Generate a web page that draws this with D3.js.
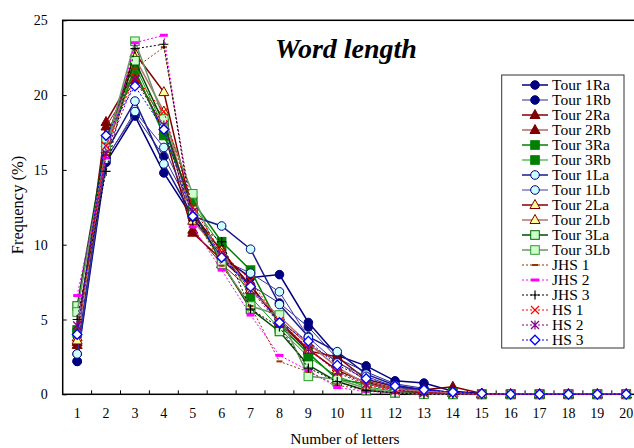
<!DOCTYPE html>
<html>
<head>
<style>
  body{
    margin: 0;
    background: white;
    font-family: 'Liberation Serif', serif;
  }
</style>
</head>
<body>
<svg id='svgVis'></svg>
<script src="https://cdn.jsdelivr.net/npm/d3@7"></script>
<script>

var letters = d3.range(1, 21);
var yTicks = [0, 5, 10, 15, 20, 25];

var tour1Ra = [2.2, 15.5, 18.6, 14.8, 11.8, 9.2, 7.8, 8.0, 4.8, 2.6, 1.9, 0.9, 0.75, 0.2, 0.05, 0, 0, 0, 0, 0];
var tour1Rb = [2.2, 15.8, 18.7, 15.9, 12.2, 9.5, 7.3, 6.1, 4.5, 2.4, 1.5, 0.7, 0.4, 0.1, 0, 0, 0, 0, 0, 0];
var tour2Ra = [3.5, 18.2, 21.5, 17.6, 10.8, 9.0, 7.3, 4.8, 2.9, 2.5, 1.0, 0.5, 0.3, 0.5, 0.05, 0, 0, 0, 0, 0];
var tour2Rb = [3.3, 17.9, 21.0, 18.5, 11.0, 8.7, 7.0, 5.0, 3.3, 2.2, 0.9, 0.4, 0.2, 0.1, 0, 0, 0, 0, 0, 0];
var tour3Ra = [4.3, 16.6, 21.7, 17.3, 12.9, 10.2, 8.3, 4.6, 2.75, 1.0, 0.7, 0.3, 0.1, 0.1, 0, 0, 0, 0, 0, 0];
var tour3Rb = [4.1, 16.3, 22.0, 17.8, 12.6, 9.9, 6.5, 4.4, 2.5, 1.2, 0.5, 0.2, 0.1, 0, 0, 0, 0, 0, 0, 0];
var tour1La = [2.7, 16.2, 19.6, 15.4, 11.9, 11.25, 9.7, 6.0, 3.85, 2.85, 1.35, 0.6, 0.3, 0.1, 0, 0, 0, 0, 0, 0];
var tour1Lb = [2.7, 15.7, 18.9, 16.5, 12.3, 9.0, 8.1, 6.85, 3.8, 2.1, 1.2, 0.5, 0.2, 0.1, 0, 0, 0, 0, 0, 0];
var tour2La = [3.8, 16.8, 22.8, 20.2, 12.0, 9.6, 7.2, 4.9, 3.0, 1.6, 0.8, 0.3, 0.1, 0.1, 0, 0, 0, 0, 0, 0];
var tour2Lb = [3.6, 16.4, 22.5, 18.9, 11.6, 9.4, 7.0, 5.2, 3.4, 1.8, 0.7, 0.3, 0.2, 0.1, 0, 0, 0, 0, 0, 0];
var tour3La = [5.9, 17.0, 22.3, 18.1, 12.3, 8.8, 5.7, 4.2, 1.95, 0.85, 0.25, 0.1, 0.05, 0, 0, 0, 0, 0, 0, 0];
var tour3Lb = [5.5, 16.5, 23.6, 18.4, 13.4, 8.7, 5.9, 5.3, 1.2, 1.0, 0.4, 0.1, 0, 0, 0, 0, 0, 0, 0, 0];
var jhs1 = [3.8, 16.0, 21.8, 23.2, 12.1, 8.6, 5.9, 2.2, 1.5, 0.6, 0.3, 0.1, 0, 0, 0, 0, 0, 0, 0, 0];
var jhs2 = [6.6, 15.8, 23.5, 24.0, 11.2, 8.3, 5.3, 2.6, 1.6, 0.45, 0.2, 0.1, 0, 0, 0, 0, 0, 0, 0, 0];
var jhs3 = [5.0, 14.9, 23.1, 23.4, 11.6, 10.2, 5.7, 4.5, 1.75, 0.85, 0.25, 0.1, 0, 0, 0, 0, 0, 0, 0, 0];
var hs1 = [4.2, 16.6, 21.2, 18.9, 12.5, 9.5, 7.6, 4.9, 3.1, 1.45, 0.6, 0.25, 0.1, 0.05, 0, 0, 0, 0, 0, 0];
var hs2 = [4.6, 16.1, 21.0, 18.0, 12.2, 9.3, 7.0, 4.7, 3.0, 1.5, 0.7, 0.3, 0.1, 0.05, 0, 0, 0, 0, 0, 0];
var hs3 = [4.0, 17.3, 20.6, 17.7, 11.9, 9.15, 7.2, 4.8, 3.55, 1.95, 1.05, 0.55, 0.3, 0.15, 0.05, 0, 0, 0, 0, 0];

// name, values, line colour, line width, dash, marker, marker fill, marker stroke
var series = [
  ['Tour 1Ra', tour1Ra, '#000080', 1.5, null, 'circle', '#000080', '#000080'],
  ['Tour 1Rb', tour1Rb, '#2a2a95', 1, null, 'circle', '#000080', '#000080'],
  ['Tour 2Ra', tour2Ra, '#800000', 1.5, null, 'triangle', '#800000', '#800000'],
  ['Tour 2Rb', tour2Rb, '#8c1a1a', 1, null, 'triangle', '#800000', '#800000'],
  ['Tour 3Ra', tour3Ra, '#008000', 1.5, null, 'square', '#008000', '#008000'],
  ['Tour 3Rb', tour3Rb, '#119911', 1, null, 'square', '#008000', '#008000'],
  ['Tour 1La', tour1La, '#1a1a8c', 1.5, null, 'circle', '#ccffff', '#000080'],
  ['Tour 1Lb', tour1Lb, '#3b3ba0', 1, null, 'circle', '#ccffff', '#000080'],
  ['Tour 2La', tour2La, '#800000', 1.5, null, 'triangle', '#ffff99', '#800000'],
  ['Tour 2Lb', tour2Lb, '#b87070', 1.5, null, 'triangle', '#ffff99', '#800000'],
  ['Tour 3La', tour3La, '#004d00', 1.5, null, 'square', '#ccffcc', '#006600'],
  ['Tour 3Lb', tour3Lb, '#669966', 1.5, null, 'square', '#ccffcc', '#339933'],
  ['JHS 1', jhs1, '#993300', 1, '2,2', 'dash', '#993300', '#993300'],
  ['JHS 2', jhs2, '#ff00ff', 1, '2,2', 'thickdash', '#ff00ff', '#ff00ff'],
  ['JHS 3', jhs3, '#000000', 1, '2,2', 'plus', 'none', '#000000'],
  ['HS 1', hs1, '#ff0000', 1, '2,2', 'cross', 'none', '#ff0000'],
  ['HS 2', hs2, '#800080', 1, '2,2', 'star', 'none', '#800080'],
  ['HS 3', hs3, '#0000ff', 1, '2,2', 'diamond', '#ffffff', '#0000ff']
];

var width = 634, height = 448;
var plotLeft = 62.7, plotTop = 20.3, plotBottom = 394.3, plotRight = 640.7;

var svg = d3.select('#svgVis')
    .attr('width', width)
    .attr('height', height);

var x = d3.scalePoint().domain(letters).range([plotLeft, plotRight]).padding(0.5);
var y = d3.scaleLinear().domain([0, 25]).range([plotBottom, plotTop]);

// frame
svg.append('rect')
  .attr('x', plotLeft).attr('y', plotTop)
  .attr('width', plotRight - plotLeft).attr('height', plotBottom - plotTop)
  .attr('fill', 'none').attr('stroke', '#000').attr('stroke-width', 1.5);

// y axis
var yAxis = svg.append('g')
  .attr('transform', 'translate(' + plotLeft + ',0)')
  .call(d3.axisRight(y).tickValues(yTicks).tickSize(4).tickFormat(''));
yAxis.select('.domain').remove();
yTicks.forEach(function(t) {
  svg.append('text')
    .attr('x', plotLeft - 15).attr('y', y(t) + 5)
    .attr('text-anchor', 'end')
    .style('font-size', '14px')
    .text(t);
});

// x axis: ticks between categories
var step = x.step();
var bounds = d3.range(1, 20).map(function(i) { return plotLeft + i * step; });
svg.selectAll('.xtick').data(bounds).enter().append('line')
  .attr('x1', function(d) { return d; }).attr('x2', function(d) { return d; })
  .attr('y1', plotBottom).attr('y2', plotBottom - 4)
  .attr('stroke', '#000');
svg.selectAll('.xlab').data(letters).enter().append('text')
  .attr('x', function(d) { return x(d); })
  .attr('y', plotBottom + 24)
  .attr('text-anchor', 'middle')
  .style('font-size', '14px')
  .text(function(d) { return d; });

svg.append('text')
  .attr('x', 345).attr('y', 444)
  .attr('text-anchor', 'middle')
  .style('font-size', '15.5px')
  .text('Number of letters');

svg.append('text')
  .attr('transform', 'translate(23,205) rotate(-90)')
  .attr('text-anchor', 'middle')
  .style('font-size', '16.5px')
  .text('Frequency (%)');

svg.append('text')
  .attr('x', 346).attr('y', 58)
  .attr('text-anchor', 'middle')
  .style('font-size', '28px')
  .style('font-weight', 'bold')
  .style('font-style', 'italic')
  .text('Word length');

function drawMarker(g, type, cx, cy, fill, stroke) {
  if (type == 'circle') {
    g.append('circle').attr('cx', cx).attr('cy', cy).attr('r', 4.3)
      .attr('fill', fill).attr('stroke', stroke).attr('stroke-width', 1);
  } else if (type == 'triangle') {
    g.append('path')
      .attr('d', 'M' + cx + ',' + (cy - 5.5) + 'L' + (cx + 5) + ',' + (cy + 3.5) + 'L' + (cx - 5) + ',' + (cy + 3.5) + 'Z')
      .attr('fill', fill).attr('stroke', stroke).attr('stroke-width', 1);
  } else if (type == 'square') {
    g.append('rect').attr('x', cx - 4.3).attr('y', cy - 4.3).attr('width', 8.6).attr('height', 8.6)
      .attr('fill', fill).attr('stroke', stroke).attr('stroke-width', 1);
  } else if (type == 'dash') {
    g.append('line').attr('x1', cx - 3).attr('x2', cx + 3).attr('y1', cy).attr('y2', cy)
      .attr('stroke', stroke).attr('stroke-width', 2);
  } else if (type == 'thickdash') {
    g.append('line').attr('x1', cx - 4).attr('x2', cx + 4).attr('y1', cy).attr('y2', cy)
      .attr('stroke', stroke).attr('stroke-width', 3);
  } else if (type == 'plus') {
    g.append('path').attr('d', 'M' + (cx - 4.5) + ',' + cy + 'H' + (cx + 4.5) + 'M' + cx + ',' + (cy - 4.5) + 'V' + (cy + 4.5))
      .attr('stroke', stroke).attr('stroke-width', 1.2);
  } else if (type == 'cross') {
    g.append('path').attr('d', 'M' + (cx - 4) + ',' + (cy - 4) + 'L' + (cx + 4) + ',' + (cy + 4) + 'M' + (cx + 4) + ',' + (cy - 4) + 'L' + (cx - 4) + ',' + (cy + 4))
      .attr('stroke', stroke).attr('stroke-width', 1.2);
  } else if (type == 'star') {
    g.append('path').attr('d', 'M' + (cx - 4) + ',' + (cy - 4) + 'L' + (cx + 4) + ',' + (cy + 4) + 'M' + (cx + 4) + ',' + (cy - 4) + 'L' + (cx - 4) + ',' + (cy + 4) + 'M' + cx + ',' + (cy - 4.5) + 'V' + (cy + 4.5))
      .attr('stroke', stroke).attr('stroke-width', 1.2);
  } else if (type == 'diamond') {
    g.append('path')
      .attr('d', 'M' + cx + ',' + (cy - 4.8) + 'L' + (cx + 4.8) + ',' + cy + 'L' + cx + ',' + (cy + 4.8) + 'L' + (cx - 4.8) + ',' + cy + 'Z')
      .attr('fill', fill).attr('stroke', stroke).attr('stroke-width', 1.3);
  }
}

var line = d3.line()
  .x(function(d, i) { return x(letters[i]); })
  .y(function(d) { return y(d); });

series.forEach(function(s) {
  var g = svg.append('g');
  g.append('path')
    .attr('d', line(s[1]))
    .attr('fill', 'none')
    .attr('stroke', s[2])
    .attr('stroke-width', s[3])
    .attr('stroke-dasharray', s[4]);
  s[1].forEach(function(v, i) {
    drawMarker(g, s[5], x(letters[i]), y(v), s[6], s[7]);
  });
});

// legend
var lx = 501.7, ly = 75, lw = 122.3, lh = 273;
svg.append('rect')
  .attr('x', lx).attr('y', ly).attr('width', lw).attr('height', lh)
  .attr('fill', '#fff').attr('stroke', '#333').attr('stroke-width', 1);

series.forEach(function(s, i) {
  var g = svg.append('g');
  var cy = 85 + i * 15;
  g.append('line')
    .attr('x1', 522).attr('x2', 548).attr('y1', cy).attr('y2', cy)
    .attr('stroke', s[2]).attr('stroke-width', s[3])
    .attr('stroke-dasharray', s[4]);
  drawMarker(g, s[5], 535, cy, s[6], s[7]);
  g.append('text')
    .attr('x', 552).attr('y', cy + 5)
    .style('font-size', '15.5px')
    .text(s[0]);
});

</script>
</body>
</html>
